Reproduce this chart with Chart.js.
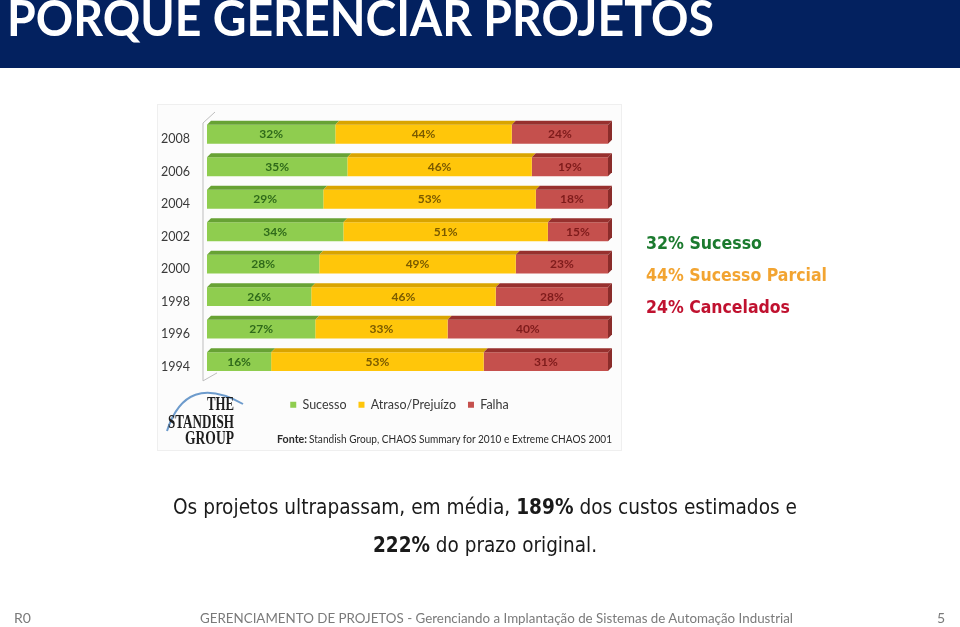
<!DOCTYPE html>
<html>
<head>
<meta charset="utf-8">
<script src="https://cdn.jsdelivr.net/npm/chart.js@4/dist/chart.umd.min.js"></script>
<style>
  html, body { margin: 0; padding: 0; background: #ffffff; }
  body { width: 960px; height: 627px; position: relative; overflow: hidden; }
  #panel { position: absolute; left: 157px; top: 104px; width: 465px; height: 347px;
           background: #fcfcfc; border: 1px solid #efefef; box-sizing: border-box; }
  #chart { position: absolute; left: 157px; top: 104px; }
  #overlay { position: absolute; left: 0; top: 0; pointer-events: none; }
</style>
</head>
<body>
<div id="panel"></div>
<canvas id="chart" width="466" height="317"></canvas>
<svg id="overlay" width="960" height="627" xmlns="http://www.w3.org/2000/svg">
  <rect x="0" y="0" width="960" height="68" fill="#03215f"/>
  <text x="7" y="36" font-family="Lato, 'Open Sans', sans-serif" font-weight="bold" font-size="50" fill="#ffffff"
        textLength="707" lengthAdjust="spacingAndGlyphs">PORQUE GERENCIAR PROJETOS</text>

  <!-- Standish Group logo -->
  <path d="M167,431 Q186,372 243,404" fill="none" stroke="#6d9bcc" stroke-width="2"/>
  <g font-family="'Liberation Serif', 'DejaVu Serif', serif" font-weight="bold" fill="#1e1e1e">
    <text x="207" y="410" font-size="18" textLength="27" lengthAdjust="spacingAndGlyphs">THE</text>
    <text x="168" y="427.5" font-size="19" textLength="66" lengthAdjust="spacingAndGlyphs">STANDISH</text>
    <text x="185" y="444" font-size="19" textLength="49" lengthAdjust="spacingAndGlyphs">GROUP</text>
  </g>

  <!-- source line -->
  <g font-family="Lato, 'Open Sans', sans-serif" font-size="11.5" fill="#2b2b2b">
    <text x="277" y="442.5" font-weight="bold" textLength="30" lengthAdjust="spacingAndGlyphs">Fonte:</text>
    <text x="309" y="442.5" textLength="303" lengthAdjust="spacingAndGlyphs">Standish Group, CHAOS Summary for 2010  e Extreme CHAOS 2001</text>
  </g>

  <!-- right-hand summary -->
  <g font-family="'DejaVu Sans Condensed', 'DejaVu Sans', sans-serif" font-stretch="condensed" font-weight="bold" font-size="17.5">
    <text x="646" y="248.5" fill="#1b7a2e" textLength="116" lengthAdjust="spacingAndGlyphs">32% Sucesso</text>
    <text x="646" y="280.5" fill="#f2a431" textLength="181" lengthAdjust="spacingAndGlyphs">44% Sucesso Parcial</text>
    <text x="646" y="312.5" fill="#c0112f" textLength="144" lengthAdjust="spacingAndGlyphs">24% Cancelados</text>
  </g>

  <!-- conclusion -->
  <g font-family="'DejaVu Sans Condensed', 'DejaVu Sans', sans-serif" font-stretch="condensed" font-size="21.5" fill="#1a1a1a">
    <text x="173" y="513.5" textLength="624" lengthAdjust="spacingAndGlyphs">Os projetos ultrapassam, em média, <tspan font-weight="bold">189%</tspan> dos custos estimados e</text>
    <text x="373" y="551.5" textLength="224" lengthAdjust="spacingAndGlyphs"><tspan font-weight="bold">222%</tspan> do prazo original.</text>
  </g>

  <!-- footer -->
  <g font-family="Lato, 'Open Sans', sans-serif" font-size="14" fill="#7a7a7a">
    <text x="14" y="623">R0</text>
    <text x="200" y="623" textLength="593" lengthAdjust="spacingAndGlyphs">GERENCIAMENTO DE PROJETOS - Gerenciando a Implantação de Sistemas de Automação Industrial</text>
    <text x="937" y="623">5</text>
  </g>
</svg>

<script>
// ---- data ----
const years = ['2008', '2006', '2004', '2002', '2000', '1998', '1996', '1994'];
const seriesNames = ['Sucesso', 'Atraso/Prejuízo', 'Falha'];
const sucesso = [32, 35, 29, 34, 28, 26, 27, 16];
const atraso  = [44, 46, 53, 51, 49, 46, 33, 53];
const falha   = [24, 19, 18, 15, 23, 28, 40, 31];

// ---- styles ----
const bodyColors  = ['#8fcd4f', '#ffc60a', '#c5504d'];
const topColors   = ['#67a234', '#d9a400', '#97302e'];
const labelColors = ['#2f6a1a', '#7a5a00', '#7e1b1b'];

const depth = 4;

const wallPlugin = {
  id: 'wall',
  beforeDatasetsDraw(chart) {
    const {ctx, chartArea: a} = chart;
    const x = a.left - 4;
    ctx.save();
    ctx.strokeStyle = '#bdbdbd';
    ctx.lineWidth = 1;
    ctx.beginPath();
    ctx.moveTo(x + 12, a.top - 6);
    ctx.lineTo(x, a.top + 5);
    ctx.lineTo(x, a.bottom + 3);
    ctx.lineTo(x + 14, a.bottom - 5);
    ctx.stroke();
    ctx.restore();
  }
};

// nudge the legend block a little to the right, as in the original figure
const legendShift = {
  id: 'legendShift',
  afterLayout(chart) {
    if (chart.legend) { chart.legend.left += 34; }
  }
};

const bar3dPlugin = {
  id: 'bar3d',
  afterDatasetsDraw(chart) {
    const {ctx} = chart;
    const n = chart.data.datasets.length;
    ctx.save();
    chart.data.datasets.forEach((ds, di) => {
      const meta = chart.getDatasetMeta(di);
      meta.data.forEach((el) => {
        const left = Math.min(el.base, el.x), right = Math.max(el.base, el.x);
        const top = el.y - el.height / 2, bottom = el.y + el.height / 2;
        ctx.fillStyle = topColors[di];
        ctx.beginPath();
        ctx.moveTo(left, top);
        ctx.lineTo(left + depth, top - depth);
        ctx.lineTo(right + depth, top - depth);
        ctx.lineTo(right, top);
        ctx.closePath();
        ctx.fill();
        if (di === n - 1) {
          ctx.fillStyle = '#8a2c2a';
          ctx.beginPath();
          ctx.moveTo(right, top);
          ctx.lineTo(right + depth, top - depth);
          ctx.lineTo(right + depth, bottom - depth);
          ctx.lineTo(right, bottom);
          ctx.closePath();
          ctx.fill();
        }
      });
    });
    ctx.font = 'bold 12px Lato, "Open Sans", sans-serif';
    ctx.textAlign = 'center';
    ctx.textBaseline = 'middle';
    chart.data.datasets.forEach((ds, di) => {
      const meta = chart.getDatasetMeta(di);
      meta.data.forEach((el, i) => {
        ctx.fillStyle = labelColors[di];
        ctx.fillText(ds.data[i] + '%', (el.x + el.base) / 2, el.y);
      });
    });
    ctx.restore();
  }
};

const seriesData = [sucesso, atraso, falha];

new Chart(document.getElementById('chart'), {
  type: 'bar',
  data: {
    labels: years,
    datasets: seriesNames.map((name, i) => ({
      label: name,
      data: seriesData[i],
      backgroundColor: bodyColors[i],
      borderWidth: 0,
      barPercentage: 0.58,
      categoryPercentage: 1.0
    }))
  },
  options: {
    indexAxis: 'y',
    responsive: false,
    animation: false,
    layout: { padding: { top: 14, right: 15, left: 0, bottom: 0 } },
    scales: {
      x: {
        stacked: true, min: 0, max: 100,
        grid: { display: false, drawTicks: false }, border: { display: false },
        ticks: { display: false },
        afterFit(s) { s.height = 8.6; s.paddingLeft = 0; s.paddingRight = 0; }
      },
      y: {
        stacked: true,
        grid: { display: false, drawTicks: false }, border: { display: false },
        ticks: { color: '#3a3a3a', padding: 17, labelOffset: 5,
                 font: { family: 'Lato, "Open Sans", sans-serif', size: 12.5 } },
        afterFit(s) { s.width = 50; s.paddingTop = 0; s.paddingBottom = 0; }
      }
    },
    plugins: {
      tooltip: { enabled: false },
      legend: {
        position: 'bottom',
        labels: {
          boxWidth: 6, boxHeight: 6, padding: 12, color: '#3a3a3a',
          font: { family: 'Lato, "Open Sans", sans-serif', size: 12.5 }
        }
      }
    }
  },
  plugins: [wallPlugin, legendShift, bar3dPlugin]
});
</script>
</body>
</html>
